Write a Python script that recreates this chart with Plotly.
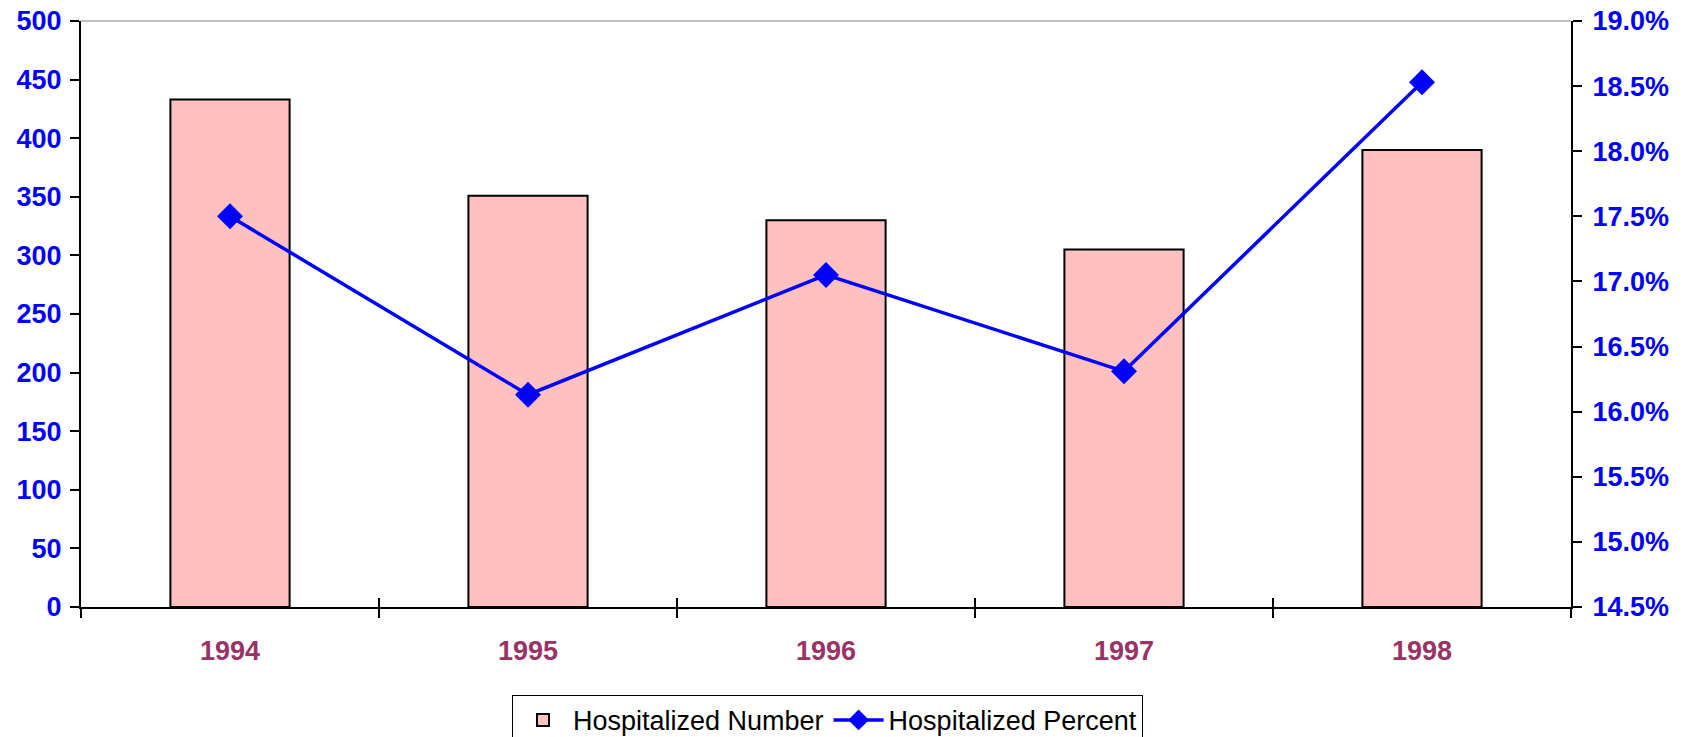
import plotly.graph_objects as go

years = ["1994", "1995", "1996", "1997", "1998"]
hosp_number = [433, 351, 330, 305, 390]
hosp_percent = [0.1750, 0.1613, 0.1705, 0.1631, 0.1853]

blue = "#0000FF"
tickfont_y = dict(family="Liberation Sans, Arial", size=27, color=blue, weight="bold")

fig = go.Figure()
fig.add_trace(go.Bar(x=years, y=hosp_number, name="Hospitalized Number",
                     marker=dict(color="#FFC0C0", line=dict(color="black", width=2)),
                     xaxis="x", yaxis="y"))
fig.add_trace(go.Scatter(x=years, y=hosp_percent, name="Hospitalized Percent",
                         mode="lines+markers",
                         line=dict(color=blue, width=3.5),
                         marker=dict(symbol="diamond", size=20, color=blue),
                         xaxis="x2", yaxis="y2"))

fig.update_layout(
    width=1688, height=737,
    margin=dict(l=81, r=117, t=21, b=130, autoexpand=False),
    plot_bgcolor="white", paper_bgcolor="white",
    bargap=0.6,
    showlegend=True,
    legend=dict(orientation="h", x=0.501, xanchor="center", y=-0.15, yanchor="top",
                bordercolor="black", borderwidth=1, bgcolor="white", itemwidth=50,
                font=dict(family="Liberation Sans, Arial", size=27, color="black")),
    xaxis=dict(type="category", range=[-0.5, 4.5], tickson="boundaries",
               ticks="outside", ticklen=9, tickwidth=2, tickcolor="black",
               showline=True, linecolor="black", linewidth=2, showgrid=False,
               automargin=False, ticklabeloverflow="allow",
               tickfont=dict(family="Liberation Sans, Arial", size=27, color="#993366",
                             weight="bold"),
               ticklabelstandoff=19),
    xaxis2=dict(type="category", range=[-0.5, 4.5], overlaying="x", tickson="boundaries",
                ticks="inside", ticklen=9, tickwidth=2, tickcolor="black", automargin=False,
                showticklabels=False, showline=False, showgrid=False, anchor="y",
                visible=True),
    yaxis=dict(range=[0, 500], dtick=50, ticks="outside", ticklen=9, tickwidth=2,
               tickcolor="black", showline=True, linecolor="black", linewidth=2,
               automargin=False, ticklabeloverflow="allow",
               showgrid=False, zeroline=False, tickfont=tickfont_y, ticklabelstandoff=3),
    yaxis2=dict(range=[0.145, 0.19], dtick=0.005, tickformat=".1%", side="right",
                overlaying="y", anchor="x", ticks="outside", ticklen=9, tickwidth=2,
                tickcolor="black", showline=True, linecolor="black", linewidth=2,
                automargin=False, ticklabeloverflow="allow",
                showgrid=False, zeroline=False, tickfont=tickfont_y, ticklabelstandoff=5),
    yaxis3=dict(range=[0, 500], dtick=50, overlaying="y", side="left", anchor="x",
                ticks="inside", ticklen=9, tickwidth=2, tickcolor="black", automargin=False,
                showticklabels=False, showline=False, showgrid=False, zeroline=False,
                visible=True),
    yaxis4=dict(range=[0.145, 0.19], dtick=0.005, overlaying="y", side="right", anchor="x",
                ticks="inside", ticklen=9, tickwidth=2, tickcolor="black", automargin=False,
                showticklabels=False, showline=False, showgrid=False, zeroline=False,
                visible=True),
    shapes=[dict(type="line", xref="paper", yref="paper", x0=0, x1=1, y0=1, y1=1,
                 line=dict(color="#808080", width=1))],
)

# drop the browser's default 8px body margin so the figure sits at the page corner
fig.write_html("out.html", config={"displayModeBar": False},
               post_script="document.body.style.margin='0';")
